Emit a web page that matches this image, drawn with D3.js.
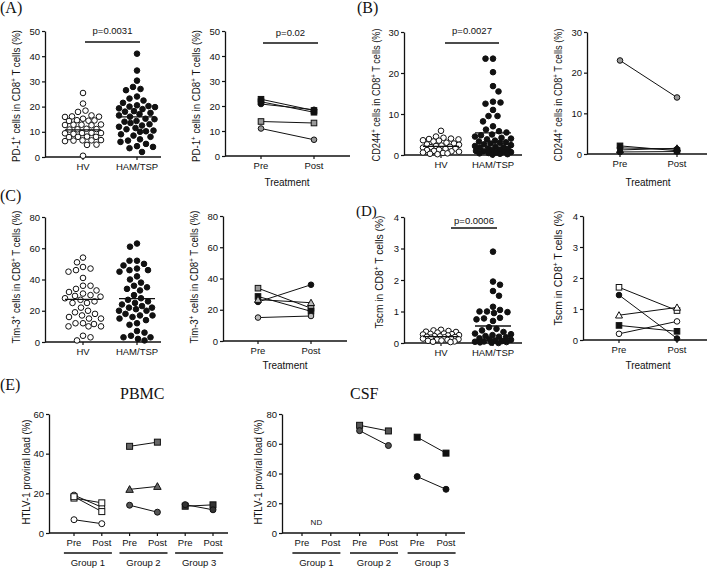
<!DOCTYPE html>
<html><head><meta charset="utf-8">
<script src="https://cdn.jsdelivr.net/npm/d3@7"></script>
<style>
body{margin:0;background:#fff}
text{font-family:"Liberation Sans",Arial,Helvetica,sans-serif;fill:#111}
.serif{font-family:"Liberation Serif","Times New Roman",serif}
</style>
</head><body><svg id="c" width="709" height="569"></svg>
<script>
// ---------------- DATA ----------------
const groupCats = ["HV", "HAM/TSP"];
const treatCats = ["Pre", "Post"];
const pbmcCats = ["G1 Pre", "G1 Post", "G2 Pre", "G2 Post", "G3 Pre", "G3 Post"];
const groupNames = ["Group 1", "Group 2", "Group 3"];

const pd1HV = [25.4,21.2,18.4,17.9,16.5,16.1,16.0,15.9,15.2,14.6,14.5,14.4,14.3,12.9,12.8,12.8,12.7,12.6,11.2,11.1,11.0,10.9,9.6,9.5,9.4,9.5,9.2,8.1,8.0,7.9,8.0,6.7,6.6,6.5,6.6,6.3,4.9,4.8,0.5];
const pd1HAM = [41,34.3,30.3,27.8,27,26.5,24,23.2,22.4,21.5,20.5,20.2,20,19.8,19.3,19,18.2,18,17.5,17,16.5,16,15.2,15,14.3,14,13.5,13,12.5,12,11.5,11,10.5,10.2,10,9,8.5,8,7,6.5,6,5.2,4.3,4,3.5,2];
const pd1Centre = [10.8, 15.9];
const pd1Pre = [22.7, 21.7, 20.8, 13.8, 11.0];
const pd1Post = [18.2, 17.5, 18.5, 13.2, 6.5];

const cd244HV = [5.9,4.5,4.2,4.0,3.9,3.8,3.6,3.5,3.3,3.0,2.8,2.6,2.5,2.3,2.2,2.0,1.9,1.8,1.6,1.5,1.3,1.2,1.0,0.9,0.8,0.6,0.5,0.4,0.3,0.2];
const cd244HAM = [23.5,23.5,20.2,16.8,15.5,13,12.8,12.5,11,9.5,9.5,8.2,7,6.2,5.8,5.5,5,4.8,4.5,4.2,4,3.8,3.5,3.3,3.1,3,2.8,2.6,2.4,2.2,2,1.9,1.8,1.6,1.5,1.3,1.2,1.0,0.9,0.8,0.7,0.6,0.5,0.4,0.3,0.2,0.1];
const cd244Centre = [2.1, 5.4];
const cd244Pre = [23.0, 2.0, 1.5, 1.0, 0.5];
const cd244Post = [13.9, 0.8, 1.2, 1.4, 0.6];

const tim3HV = [54,51,48,47,46,45,41,36,36,34,33,32,31,30,29.5,29,28,27,26,25,25,22,20,19,18,17,16,15,15,12,12,11.5,10,10,10,4,3,1];
const tim3HAM = [63,61,52,52,50,49,47,46,46,45,42,40,38,36,35,34,33,30,28,27,26,25,24,23,22,22,21,20,20,18,17,17,16,15,14,12,11,7,6,4,3,3,2,1];
const tim3Centre = [27.3, 27.8];
const tim3Pre = [33.8, 28.5, 25.0, 26.5, 15.0];
const tim3Post = [21.0, 19.0, 36.0, 24.5, 16.0];

const tscmHV = [0.42,0.40,0.38,0.36,0.35,0.33,0.30,0.29,0.28,0.27,0.25,0.24,0.22,0.21,0.20,0.19,0.18,0.17,0.15,0.14,0.12,0.11,0.10,0.08,0.07,0.05,0.04,0.03];
const tscmHAM = [2.9,1.95,1.85,1.65,1.5,1.15,1.05,1.0,1.0,0.98,0.95,0.8,0.78,0.75,0.7,0.5,0.45,0.4,0.35,0.3,0.28,0.25,0.22,0.2,0.18,0.15,0.12,0.1,0.08,0.06,0.05,0.04,0.03,0.02,0.01,0.0];
const tscmCentre = [0.2, 0.54];
const tscmPre = [1.7, 1.45, 0.8, 0.47, 0.2];
const tscmPost = [0.95, 0.05, 1.05, 0.28, 0.6];

// PBMC / CSF proviral load: group index, pre, post
const pbmcGroup = [0, 0, 0, 0, 1, 1, 1, 2, 2];
const pbmcPre =  [19.1, 17.6, 18.3, 6.7, 43.7, 22.0, 14.0, 13.5, 14.3];
const pbmcPost = [13.0, 15.2, 10.8, 4.7, 45.8, 23.5, 10.5, 14.2, 11.7];
const csfGroup = [1, 1, 2, 2];
const csfPre =  [72.4, 68.8, 64.4, 37.9];
const csfPost = [68.6, 58.8, 53.7, 29.4];

// ---------------- DRAWING ----------------
const svg = d3.select("#c");
const R = 2.8;

function marker(g, shape, cx, cy, fill, r) {
  r = r || R;
  let el;
  if (shape === "circle") el = g.append("circle").attr("cx", cx).attr("cy", cy).attr("r", r);
  else if (shape === "square") el = g.append("rect").attr("x", cx - r).attr("y", cy - r).attr("width", 2 * r).attr("height", 2 * r);
  else {
    const h = r * 1.25;
    el = g.append("path").attr("d", `M${cx},${cy - h}L${cx + h},${cy + h * 0.8}L${cx - h},${cy + h * 0.8}Z`);
  }
  el.attr("fill", fill).attr("stroke", "#111").attr("stroke-width", 1);
}

function richText(g, x, y, parts, size, rotate, len) {
  const t = g.append("text").attr("text-anchor", "middle").attr("font-size", size)
    .attr("transform", `translate(${x},${y}) rotate(${rotate || 0})`);
  let prevSup = false;
  parts.forEach(p => {
    const ts = t.append("tspan").text(p[0]);
    if (p[1]) ts.attr("font-size", size * 0.65).attr("dy", -size * 0.38);
    else if (prevSup) ts.attr("dy", size * 0.38);
    prevSup = p[1];
  });
  if (len) t.attr("textLength", len).attr("lengthAdjust", "spacingAndGlyphs");
  return t;
}

function frame(cfg) {
  const g = svg.append("g");
  const y = d3.scaleLinear().domain([0, cfg.max]).range([cfg.y0, cfg.y1]);
  const x = d3.scalePoint().domain(cfg.cats).range(cfg.xr);
  const ya = g.append("g").attr("transform", `translate(${cfg.ax},0)`)
    .call(d3.axisLeft(y).tickValues(cfg.ticks).tickFormat(d3.format("~g")).tickSize(3).tickSizeOuter(0).tickPadding(2));
  ya.select(".domain").attr("stroke-width", 1.3).attr("stroke", "#111");
  ya.selectAll(".tick line").attr("stroke-width", 1.2).attr("stroke", "#111");
  ya.selectAll(".tick text").attr("font-size", 9.5).attr("font-family", "Liberation Sans, Arial, sans-serif").attr("fill", "#222");
  g.append("line").attr("x1", cfg.ax).attr("x2", cfg.xEnd).attr("y1", cfg.y0).attr("y2", cfg.y0)
    .attr("stroke", "#111").attr("stroke-width", 1.3);
  cfg.cats.forEach((c, i) => {
    g.append("line").attr("x1", x(c)).attr("x2", x(c)).attr("y1", cfg.y0).attr("y2", cfg.y0 + 3)
      .attr("stroke", "#111").attr("stroke-width", 1.2);
    g.append("text").attr("x", x(c)).attr("y", cfg.y0 + 13).attr("text-anchor", "middle")
      .attr("font-size", 9.5).attr("fill", "#222").text(cfg.labels ? cfg.labels[i] : c);
  });
  richText(g, cfg.lx, cfg.ly !== undefined ? cfg.ly : (cfg.y0 + cfg.y1) / 2, cfg.ylabel, 10, -90, cfg.llen);
  return { g, x, y };
}

function swarm(vals, y, cx, diam, maxHalf) {
  const pts = vals.map(v => ({ v, py: y(v) })).sort((a, b) => a.py - b.py);
  const placed = [];
  let flip = 1;
  pts.forEach(p => {
    let best = 0, bestD = -1;
    for (let k = 0; k <= maxHalf * 4; k++) {
      const off = (k % 2 ? flip : -flip) * Math.ceil(k / 2) * 0.5;
      let md = Infinity;
      placed.forEach(q => { md = Math.min(md, Math.hypot(q.px - (cx + off), q.py - p.py)); });
      if (md >= diam) { best = off; bestD = md; break; }
      if (md > bestD) { bestD = md; best = off; }
    }
    flip = -flip;
    p.px = cx + best;
    placed.push(p);
  });
  return placed;
}

function sigBar(g, pText, b) {
  g.append("line").attr("x1", b[0]).attr("x2", b[1]).attr("y1", b[2]).attr("y2", b[2])
    .attr("stroke", "#111").attr("stroke-width", 1.3);
  g.append("text").attr("x", (b[0] + b[1]) / 2).attr("y", b[3]).attr("text-anchor", "middle")
    .attr("font-size", 9.5).text(pText);
}

function scatterPanel(cfg, hv, ham, centre, pText, bracket) {
  const f = frame(Object.assign({ cats: groupCats }, cfg));
  [hv, ham].forEach((vals, i) => {
    const cx = f.x(groupCats[i]);
    swarm(vals, f.y, cx, 7.4, 18).forEach(p => marker(f.g, "circle", p.px, p.py, i ? "#111" : "#fff"));
    f.g.append("line").attr("x1", cx - 18).attr("x2", cx + 18).attr("y1", f.y(centre[i])).attr("y2", f.y(centre[i]))
      .attr("stroke", "#111").attr("stroke-width", 1.3);
  });
  if (pText) sigBar(f.g, pText, bracket);
}

function pairedPanel(cfg, pre, post, styles, pText, bracket, tx, ty) {
  const f = frame(Object.assign({ cats: treatCats }, cfg));
  pre.forEach((v, i) => {
    f.g.append("line").attr("x1", f.x("Pre")).attr("x2", f.x("Post")).attr("y1", f.y(v)).attr("y2", f.y(post[i]))
      .attr("stroke", "#111").attr("stroke-width", 1);
  });
  pre.forEach((v, i) => {
    marker(f.g, styles[i][0], f.x("Pre"), f.y(v), styles[i][1]);
    marker(f.g, styles[i][0], f.x("Post"), f.y(post[i]), styles[i][1]);
  });
  if (pText) sigBar(f.g, pText, bracket);
  f.g.append("text").attr("x", tx).attr("y", ty).attr("text-anchor", "middle").attr("font-size", 10).text("Treatment");
}

const lab = a => [[a, 0], ["+", 1], [" cells in CD8", 0], ["+", 1], [" T cells (%)", 0]];

// (A)
scatterPanel({ max: 50, ticks: [0, 10, 20, 30, 40, 50], y0: 157, y1: 31, ax: 45, xEnd: 161, xr: [83, 137], lx: 20, ly: 96, llen: 132,
  ylabel: lab("PD-1") }, pd1HV, pd1HAM, pd1Centre, "p=0.0031", [85, 140, 42, 34]);
pairedPanel({ max: 50, ticks: [0, 10, 20, 30, 40, 50], y0: 156, y1: 31, ax: 225, xEnd: 350, xr: [261, 314], lx: 200, ly: 96, llen: 132,
  ylabel: lab("PD-1") }, pd1Pre, pd1Post,
  [["square", "#111"], ["square", "#111"], ["circle", "#111"], ["square", "#999"], ["circle", "#999"]],
  "p=0.02", [263, 318, 43, 36], 287, 186);

// (B)
scatterPanel({ max: 30, ticks: [0, 10, 20, 30], y0: 155, y1: 32, ax: 404, xEnd: 522, xr: [441, 493], lx: 380, ly: 95, llen: 133,
  ylabel: lab("CD244") }, cd244HV, cd244HAM, cd244Centre, "p=0.0027", [445, 499, 43, 34]);
pairedPanel({ max: 30, ticks: [0, 10, 20, 30], y0: 154, y1: 32, ax: 587, xEnd: 707, xr: [620, 677], lx: 562, ly: 95, llen: 133,
  ylabel: lab("CD244") }, cd244Pre, cd244Post,
  [["circle", "#999"], ["square", "#111"], ["circle", "#111"], ["triangle", "#111"], ["circle", "#111"]],
  null, null, 648, 186);

// (C)
scatterPanel({ max: 80, ticks: [0, 20, 40, 60, 80], y0: 342, y1: 217, ax: 45, xEnd: 161, xr: [83, 137], lx: 20, ly: 277, llen: 133,
  ylabel: lab("Tim-3") }, tim3HV, tim3HAM, tim3Centre, null, null);
pairedPanel({ max: 80, ticks: [0, 20, 40, 60, 80], y0: 341, y1: 216, ax: 223, xEnd: 347, xr: [258, 311], lx: 198, ly: 277, llen: 133,
  ylabel: lab("Tim-3") }, tim3Pre, tim3Post,
  [["square", "#999"], ["square", "#111"], ["circle", "#111"], ["triangle", "#bbb"], ["circle", "#bbb"]],
  null, null, 285, 369);

// (D)
const tscmLabel = [["Tscm in CD8", 0], ["+", 1], [" T cells (%)", 0]];
scatterPanel({ max: 4, ticks: [0, 1, 2, 3, 4], y0: 343, y1: 217, ax: 404, xEnd: 522, xr: [441, 493], lx: 383, ly: 272, llen: 113,
  ylabel: tscmLabel }, tscmHV, tscmHAM, tscmCentre, "p=0.0006", [451, 497, 228, 224]);
pairedPanel({ max: 4, ticks: [0, 1, 2, 3, 4], y0: 340, y1: 216, ax: 583, xEnd: 707, xr: [619, 677], lx: 562, ly: 268, llen: 115,
  ylabel: tscmLabel }, tscmPre, tscmPost,
  [["square", "#fff"], ["circle", "#111"], ["triangle", "#fff"], ["square", "#111"], ["circle", "#fff"]],
  null, null, 648, 369);

// (E)
function loadPanel(cfg, grp, pre, post, styles, title, titleX) {
  const f = frame(Object.assign({ cats: pbmcCats, labels: pbmcCats.map(c => c.split(" ")[1]) }, cfg));
  grp.forEach((gi, i) => {
    const a = pbmcCats[gi * 2], b = pbmcCats[gi * 2 + 1];
    f.g.append("line").attr("x1", f.x(a)).attr("x2", f.x(b)).attr("y1", f.y(pre[i])).attr("y2", f.y(post[i]))
      .attr("stroke", "#111").attr("stroke-width", 1);
  });
  grp.forEach((gi, i) => {
    const a = pbmcCats[gi * 2], b = pbmcCats[gi * 2 + 1];
    marker(f.g, styles[i][0], f.x(a), f.y(pre[i]), styles[i][1], 3);
    marker(f.g, styles[i][0], f.x(b), f.y(post[i]), styles[i][1], 3);
  });
  groupNames.forEach((n, gi) => {
    const c = (f.x(pbmcCats[gi * 2]) + f.x(pbmcCats[gi * 2 + 1])) / 2;
    f.g.append("line").attr("x1", c - 24).attr("x2", c + 24).attr("y1", 553).attr("y2", 553)
      .attr("stroke", "#111").attr("stroke-width", 1.3);
    f.g.append("text").attr("x", c).attr("y", 566).attr("text-anchor", "middle").attr("font-size", 9.5).text(n);
  });
  svg.append("text").attr("class", "serif").attr("x", titleX).attr("y", 399).attr("font-size", 16).text(title);
  return f;
}
const plLabel = [["HTLV-1 proviral load (%)", 0]];
loadPanel({ max: 60, ticks: [0, 20, 40, 60], y0: 533, y1: 414, ax: 49, xEnd: 228, xr: [74, 213], lx: 30, ly: 472, llen: 105, ylabel: plLabel },
  pbmcGroup, pbmcPre, pbmcPost,
  [["circle", "#fff"], ["square", "#fff"], ["square", "#fff"], ["circle", "#fff"],
   ["square", "#666"], ["triangle", "#666"], ["circle", "#555"], ["square", "#333"], ["circle", "#333"]],
  "PBMC", 120);
const csf = loadPanel({ max: 80, ticks: [0, 20, 40, 60, 80], y0: 533, y1: 414, ax: 282, xEnd: 465, xr: [302, 446], lx: 262, ly: 472, llen: 105, ylabel: plLabel },
  csfGroup, csfPre, csfPost,
  [["square", "#555"], ["circle", "#555"], ["square", "#111"], ["circle", "#111"]],
  "CSF", 350);
svg.append("text").attr("x", (csf.x(pbmcCats[0]) + csf.x(pbmcCats[1])) / 2).attr("y", 525).attr("text-anchor", "middle")
  .attr("font-size", 8).text("ND");

// panel letters
[["(A)", 0, 13], ["(B)", 357, 13], ["(C)", 0, 201], ["(D)", 356, 216], ["(E)", 0, 390]].forEach(d =>
  svg.append("text").attr("class", "serif").attr("x", d[1]).attr("y", d[2]).attr("font-size", d[0] === "(D)" ? 15 : 16).text(d[0]));
</script>
</body></html>
